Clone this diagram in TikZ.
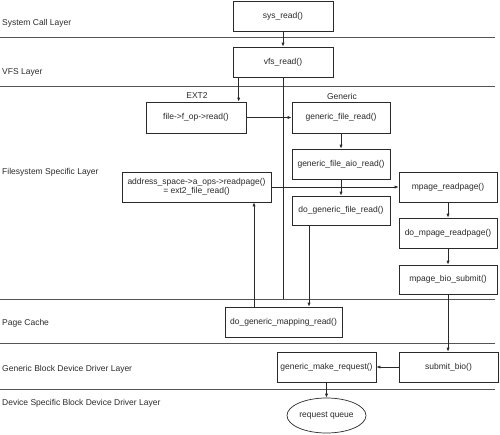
\documentclass[tikz,border=0pt]{standalone}
\usepackage{fontspec}
\setmainfont{Liberation Sans}
\usetikzlibrary{shapes.geometric,arrows.meta}
\definecolor{ink}{HTML}{2A2A2A}
\tikzset{
  fb/.style={draw=ink, line width=0.7pt, fill=white, inner sep=0pt, align=center,
    font=\fontsize{8.5}{10}\selectfont, text=ink},
  lay/.style={anchor=west, inner sep=0pt, font=\fontsize{8.5}{10}\selectfont, text=ink},
  sep/.style={draw=ink!80, line width=0.8pt},
  con/.style={draw=ink, line width=0.7pt},
  arr/.style={con, -{Latex[length=4pt,width=3.2pt]}},
}
\begin{document}
\begin{tikzpicture}[x=1pt,y=-1pt]
\useasboundingbox (0,0) rectangle (500,434);
% layer separators
\coordinate (s1a) at (0,37);   \coordinate (s1b) at (495,37);
\coordinate (s2a) at (0,86);   \coordinate (s2b) at (495,86);
\coordinate (s3a) at (0,299);  \coordinate (s3b) at (495,299);
\coordinate (s4a) at (0,343);  \coordinate (s4b) at (495,343);
\coordinate (s5a) at (0,389);  \coordinate (s5b) at (495,389);
\draw[sep] (s1a) -- (s1b);
\draw[sep] (s2a) -- (s2b);
\draw[sep] (s3a) -- (s3b);
\draw[sep] (s4a) -- (s4b);
\draw[sep] (s5a) -- (s5b);
% layer labels
\node[lay] (l1) at (2,23) {System Call Layer};
\node[lay] (l2) at (2,72) {VFS Layer};
\node[lay] (l3) at (2,172) {Filesystem Specific Layer};
\node[lay] (l4) at (2,323) {Page Cache};
\node[lay] (l5) at (2,369) {Generic Block Device Driver Layer};
\node[lay] (l6) at (2,403) {Device Specific Block Device Driver Layer};
% group labels
\node[lay, anchor=center] (ext2) at (197,96) {EXT2};
\node[lay, anchor=center] (gen) at (342,96.5) {Generic};
% boxes
\node[fb, minimum width=100, minimum height=30] (sys) at (283,16) {sys\_read()};
\node[fb, minimum width=100, minimum height=30] (vfs) at (283,62) {vfs\_read()};
% vertical divider from vfs_read
\draw[con] (vfs.south) -- (vfs.south |- s3a);
\node[fb, minimum width=100, minimum height=31] (fop) at (196,117.5) {file->f\_op->read()};
\node[fb, minimum width=98, minimum height=31] (gfr) at (341,117.5) {generic\_file\_read()};
\node[fb, minimum width=98, minimum height=30] (gfar) at (341,164) {generic\_file\_aio\_read()};
\node[fb, minimum width=98, minimum height=29] (dgfr) at (341,210.5) {do\_generic\_file\_read()};
\node[fb, minimum width=149, minimum height=30, font=\fontsize{8.5}{9.5}\selectfont] (asp) at (196.5,187) {address\_space->a\_ops->readpage()\\= ext2\_file\_read()};
\node[fb, minimum width=98, minimum height=30] (mrp) at (448,187) {mpage\_readpage()};
\node[fb, minimum width=98, minimum height=30] (dmrp) at (448,233) {do\_mpage\_readpage()};
\node[fb, minimum width=98, minimum height=29] (mbs) at (448,279.5) {mpage\_bio\_submit()};
\node[fb, minimum width=117, minimum height=30] (dgmr) at (283.5,322) {do\_generic\_mapping\_read()};
\node[fb, minimum width=99, minimum height=30] (gmr) at (326.5,367) {generic\_make\_request()};
\node[fb, minimum width=99, minimum height=30] (sbio) at (448.5,367) {submit\_bio()};
\node[fb, ellipse, minimum width=79, minimum height=35] (rq) at (326.5,415.5) {request queue};
% connectors
\draw[arr] (sys) -- (vfs);
\draw[arr] ([xshift=6pt]vfs.south west) -- ([xshift=6pt]vfs.south west |- fop.north);
\draw[arr] (fop) -- (gfr);
\draw[arr] (gfr) -- (gfar);
\draw[arr] (gfar) -- (dgfr);
\draw[arr] (asp) -- (mrp);
\draw[arr] ([xshift=-32pt]dgfr.south) -- ([xshift=-32pt]dgfr.south |- dgmr.north);
\draw[arr] ([xshift=-29.5pt]dgmr.north) -- ([xshift=-29.5pt]dgmr.north |- asp.south);
\draw[arr] (mrp) -- (dmrp);
\draw[arr] (dmrp) -- (mbs);
\draw[arr] (mbs.south) -- (mbs.south |- sbio.north);
\draw[arr] (sbio) -- (gmr);
\draw[arr] (gmr) -- (rq);
\end{tikzpicture}
\end{document}
